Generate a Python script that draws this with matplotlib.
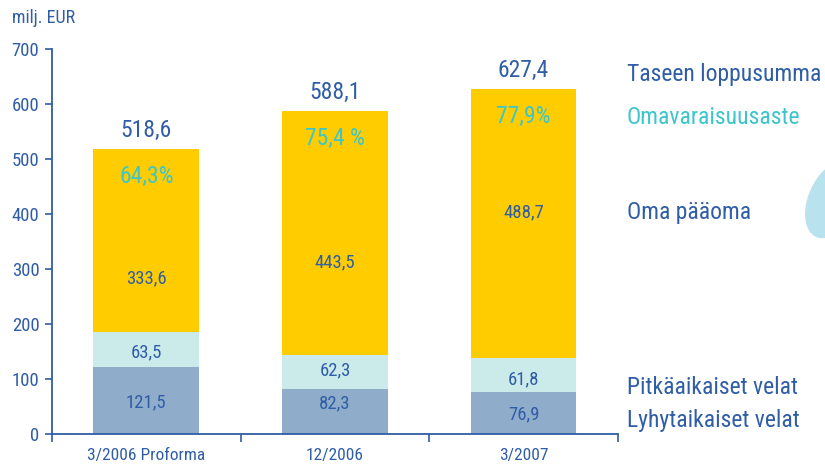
import matplotlib
matplotlib.use("Agg")
import matplotlib.pyplot as plt
from matplotlib.patches import Ellipse
from matplotlib import font_manager

categories = ["3/2006 Proforma", "12/2006", "3/2007"]
short_term = [121.5, 82.3, 76.9]
long_term = [63.5, 62.3, 61.8]
equity = [333.6, 443.5, 488.7]
totals = [518.6, 588.1, 627.4]
ratios = ["64,3%", "75,4 %", "77,9%"]
short_labels = ["121,5", "82,3", "76,9"]
long_labels = ["63,5", "62,3", "61,8"]
equity_labels = ["333,6", "443,5", "488,7"]
total_labels = ["518,6", "588,1", "627,4"]
legend_labels = ["Taseen loppusumma", "Omavaraisuusaste", "Oma pääoma",
                 "Pitkäaikaiset velat", "Lyhytaikaiset velat"]
yticks = [0, 100, 200, 300, 400, 500, 600, 700]

names = {f.name for f in font_manager.fontManager.ttflist}
FAM = ["DejaVu Sans"]
for cand in ["Liberation Sans Narrow", "Roboto Condensed", "Open Sans Condensed", "Liberation Sans"]:
    if cand in names:
        FAM = [cand, "DejaVu Sans"]
        break
plt.rcParams["font.family"] = FAM

BLUE = "#2F5DA6"
TURQ = "#3CC6CC"
C_SHORT = "#8FADCA"
C_LONG = "#CBEAEA"
C_EQ = "#FFCC00"

fig = plt.figure(figsize=(8.25, 4.76), dpi=100)
ax = fig.add_axes([0.063, 0.088, 0.686, 0.809])

x = list(range(len(categories)))
w = 0.56
b2 = [a for a in short_term]
b3 = [a + b for a, b in zip(short_term, long_term)]
ax.bar(x, short_term, w, color=C_SHORT)
ax.bar(x, long_term, w, bottom=b2, color=C_LONG)
ax.bar(x, equity, w, bottom=b3, color=C_EQ)

short_y = [58, 56, 36]
long_y = [149, 115, 100]
eq_y = [283, 313, 403]
for i in x:
    ax.text(i, short_y[i], short_labels[i], ha="center", va="center", color=BLUE, fontsize=13.5)
    ax.text(i, long_y[i], long_labels[i], ha="center", va="center", color=BLUE, fontsize=13.5)
    ax.text(i, eq_y[i], equity_labels[i], ha="center", va="center", color=BLUE, fontsize=13.5)
    ax.text(i, totals[i] + 33, total_labels[i], ha="center", va="center", color=BLUE, fontsize=17)
    ax.text(i, totals[i] - 50, ratios[i], ha="center", va="center", color=TURQ, fontsize=17)

ax.set_xlim(-0.5, 2.5)
ax.set_ylim(0, 700)
ax.set_yticks(yticks)
ax.set_xticks([-0.5, 0.5, 1.5, 2.5])
ax.set_xticklabels([])
ax.set_xticks(x, minor=True)
ax.set_xticklabels(categories, minor=True)
ax.tick_params(axis="x", which="major", length=6, color=BLUE, width=1.2, direction="out")
ax.tick_params(axis="x", which="minor", length=0, pad=10, labelcolor=BLUE, labelsize=12.5)
ax.tick_params(axis="y", length=5, color=BLUE, width=1.2, labelcolor=BLUE, labelsize=13.5, pad=4)
for s in ["top", "right"]:
    ax.spines[s].set_visible(False)
for s in ["left", "bottom"]:
    ax.spines[s].set_color(BLUE)
    ax.spines[s].set_linewidth(1.3)

fig.text(12 / 825, 1 - 18 / 476, "milj. EUR", color=BLUE, fontsize=13, ha="left", va="center")

leg_y = [75, 117, 213, 387, 421]
leg_c = [BLUE, TURQ, BLUE, BLUE, BLUE]
for lab, yy, cc in zip(legend_labels, leg_y, leg_c):
    fig.text(627 / 825, 1 - yy / 476, lab, color=cc, fontsize=17, ha="left", va="center")

fig.patches.append(Ellipse((832 / 825, 1 - 200 / 476), 48 / 825, 76 / 476,
                           angle=-10, transform=fig.transFigure, color="#B8E2EE", zorder=0))

fig.savefig("out.png", dpi=100)
